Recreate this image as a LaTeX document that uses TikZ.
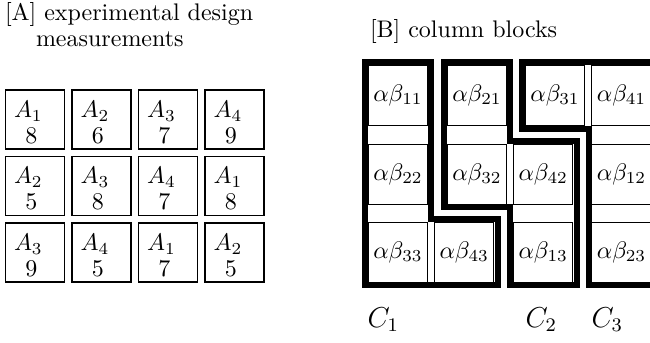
\documentclass[tikz,border=0pt]{standalone}
\begin{document}
\newlength\pxu
\setlength\pxu{0.4167pt}
\begin{tikzpicture}[x=0.4167pt,y=-0.4167pt,
  abox/.style={draw,line width=0.7pt,minimum width=59*\pxu,minimum height=59*\pxu,inner sep=0pt,outer sep=0pt},
  cell/.style={draw,line width=0.4pt,minimum width=59.5*\pxu,minimum height=60*\pxu,inner sep=0pt,outer sep=0pt},
  block/.style={line width=2.5pt,line join=miter},
  ttl/.style={anchor=base west,inner sep=0pt,outer sep=0pt},
  clab/.style={anchor=base west,inner sep=0pt,outer sep=0pt,font=\large}]
\useasboundingbox (0,0) rectangle (650,342);
% titles
\node[ttl] (tA1) at (5,20) {[A] experimental design};
\node[ttl] (tA2) at (36,46.5) {measurements};
\node[ttl] (tB) at (370,37.3) {[B] column blocks};
% part A
\foreach \r/\c/\a/\v in {1/1/1/8,1/2/2/6,1/3/3/7,1/4/4/9,
                         2/1/2/5,2/2/3/8,2/3/4/7,2/4/1/8,
                         3/1/3/9,3/2/4/5,3/3/1/7,3/4/2/5}{
  \node[abox] (a\r\c) at ({34.9+66.5*(\c-1)},{119.4+66.5*(\r-1)}) {};
  \node[ttl] (la\r\c) at ([shift={(8.6,27.5)}]a\r\c.north west) {$A_{\a}$};
  \node[anchor=base,inner sep=0pt] (va\r\c) at ([shift={(26,53.2)}]a\r\c.north west) {$\v$};
}
% part B cells
\foreach \n/\x/\y in {11/398/95.25,21/477/95.25,31/555/95.25,41/621.5/95.25,
                      22/398/174.25,32/477/174.25,42/543.2/174.25,12/621.5/174.25,
                      33/398/252.25,43/464.2/252.25,13/543.2/252.25,23/621.5/252.25}{
  \node[cell] (b\n) at (\x,\y) {$\alpha\beta_{\n}$};
}
% blocks
\draw[block] (365.3,62) -- (431,62) -- (431,219) -- (497.5,219) -- (497.5,285.3) -- (365.3,285.3) -- cycle;
\draw[block] (444,62) -- (510,62) -- (510,141.3) -- (577,141.3) -- (577,285.3) -- (510,285.3) -- (510,207.3) -- (444,207.3) -- cycle;
\draw[block] (670,62) -- (522,62) -- (522,128.5) -- (588.5,128.5) -- (588.5,285.3) -- (670,285.3);
% labels
\node[clab] (c1) at (367.5,327) {$C_1$};
\node[clab] (c2) at (525.5,327) {$C_2$};
\node[clab] (c3) at (591.5,327) {$C_3$};
\end{tikzpicture}
\end{document}
